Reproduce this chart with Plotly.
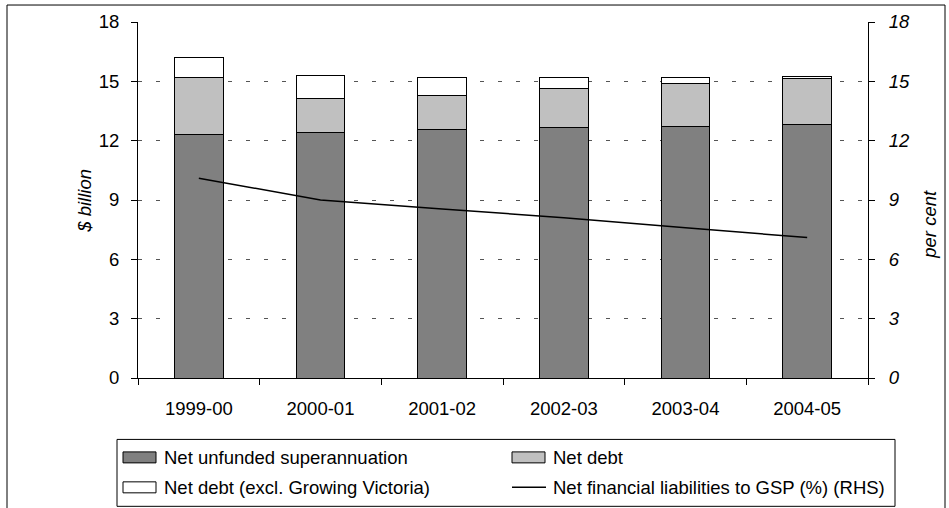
import plotly.graph_objects as go

# Financial years
years = ["1999-00", "2000-01", "2001-02", "2002-03", "2003-04", "2004-05"]

# Stacked components, $ billion
net_unfunded_super = [12.3, 12.4, 12.55, 12.65, 12.7, 12.8]
net_debt = [2.9, 1.75, 1.75, 2.0, 2.2, 2.35]
net_debt_excl_gv = [1.0, 1.15, 0.9, 0.55, 0.3, 0.07]

# Net financial liabilities to GSP, per cent (right-hand axis)
nfl_to_gsp = [10.1, 9.0, 8.55, 8.1, 7.6, 7.1]

# Axis ticks
ticks = [0, 3, 6, 9, 12, 15, 18]

FONT = "Liberation Sans, Arial, sans-serif"
FS = 18.5

W, H = 949, 508
L, R, T, B = 138, 868, 22, 378.5


def px(x):
    return (x - L) / (R - L)


def py(y):
    return (B - y) / (B - T)


fig = go.Figure()

bar_line = dict(color="black", width=1)
fig.add_trace(go.Bar(x=years, y=net_unfunded_super, name="Net unfunded superannuation",
                     marker=dict(color="#808080", line=bar_line)))
fig.add_trace(go.Bar(x=years, y=net_debt, name="Net debt",
                     marker=dict(color="#C0C0C0", line=bar_line)))
fig.add_trace(go.Bar(x=years, y=net_debt_excl_gv, name="Net debt (excl. Growing Victoria)",
                     marker=dict(color="white", line=bar_line)))
fig.add_trace(go.Scatter(x=years, y=nfl_to_gsp, yaxis="y2", mode="lines",
                         name="Net financial liabilities to GSP (%) (RHS)",
                         line=dict(color="black", width=1.5)))

shapes = []
annotations = []

# outer chart border (open at the bottom)
shapes.append(dict(type="path", xref="paper", yref="paper",
                   path=f"M {px(7)} {py(520)} L {px(7)} {py(5)} L {px(945)} {py(5)} L {px(945)} {py(520)}",
                   line=dict(color="black", width=1)))

# legend box
shapes.append(dict(type="rect", xref="paper", yref="paper",
                   x0=px(117), x1=px(895), y0=py(440), y1=py(507),
                   line=dict(color="black", width=1), fillcolor="white"))

legend_items = [
    ("rect", "#808080", "Net unfunded superannuation", 123, 458),
    ("rect", "#C0C0C0", "Net debt", 512, 458),
    ("rect", "white", "Net debt (excl. Growing Victoria)", 123, 488),
    ("line", "black", "Net financial liabilities to GSP (%) (RHS)", 512, 488),
]
for kind, col, label, x0, yc in legend_items:
    if kind == "rect":
        shapes.append(dict(type="rect", xref="paper", yref="paper",
                           x0=px(x0), x1=px(x0 + 33), y0=py(yc + 5.5), y1=py(yc - 5.5),
                           line=dict(color="black", width=1), fillcolor=col))
    else:
        shapes.append(dict(type="line", xref="paper", yref="paper",
                           x0=px(x0), x1=px(x0 + 34), y0=py(yc), y1=py(yc),
                           line=dict(color=col, width=1.5)))
    annotations.append(dict(xref="paper", yref="paper", x=px(x0 + 39), y=py(yc),
                            text=label, showarrow=False, xanchor="left", yanchor="middle",
                            font=dict(family=FONT, size=FS, color="black")))

# axis titles
annotations.append(dict(xref="paper", yref="paper", x=px(85), y=py(201), text="$ billion",
                        textangle=-90, showarrow=False, xanchor="center", yanchor="middle",
                        font=dict(family=FONT, size=FS, color="black", style="italic")))
annotations.append(dict(xref="paper", yref="paper", x=px(930), y=py(225), text="per cent",
                        textangle=-90, showarrow=False, xanchor="center", yanchor="middle",
                        font=dict(family=FONT, size=FS, color="black", style="italic")))

fig.update_layout(
    width=W, height=H,
    margin=dict(l=L, r=W - R, t=T, b=H - B),
    paper_bgcolor="white", plot_bgcolor="white",
    barmode="stack", bargap=0.6,
    showlegend=False,
    font=dict(family=FONT, size=FS, color="black"),
    xaxis=dict(type="category", showgrid=False, showline=True, linecolor="black", linewidth=1,
               ticks="outside", tickson="boundaries", ticklen=6, tickcolor="black",
               ticklabelstandoff=14, tickfont=dict(family=FONT, size=FS)),
    yaxis=dict(range=[0, 18], tickvals=ticks, showgrid=True, gridcolor="#555555", gridwidth=1,
               griddash="4px,14px", zeroline=False,
               showline=True, linecolor="black", linewidth=1, ticks="outside", ticklen=6,
               tickcolor="black", ticklabelstandoff=8, tickfont=dict(family=FONT, size=FS)),
    yaxis2=dict(range=[0, 18], tickvals=ticks, overlaying="y", side="right", showgrid=False,
                zeroline=False, showline=True, linecolor="black", linewidth=1,
                ticks="outside", ticklen=6, tickcolor="black", ticklabelstandoff=10,
                tickfont=dict(family=FONT, size=FS, style="italic")),
    shapes=shapes,
    annotations=annotations,
)

fig.write_html("out.html")
